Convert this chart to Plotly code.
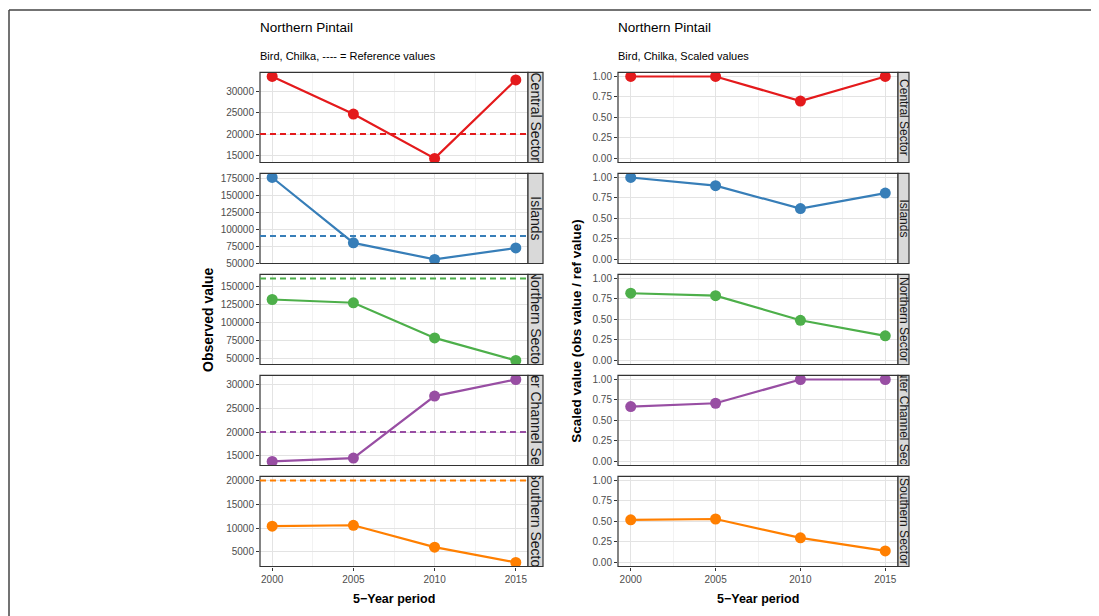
import plotly.graph_objects as go

# ---------------- data ----------------
years = [2000, 2005, 2010, 2015]
year_ticks = [2000, 2005, 2010, 2015]
sites = ["Central Sector", "Islands", "Northern Sector", "Outer Channel Sector", "Southern Sector"]
colors = ["#E41A1C", "#377EB8", "#4DAF4A", "#984EA3", "#FF7F00"]

obs_central = [33500, 24700, 14300, 32700]
obs_islands = [176000, 80000, 55700, 72500]
obs_northern = [132000, 127500, 79000, 48000]
obs_outer = [13800, 14500, 27600, 31100]
obs_southern = [10400, 10600, 6000, 2800]
ref_values = [20000, 90000, 161000, 20000, 20000]

scaled_central = [1.0, 1.0, 0.70, 1.0]
scaled_islands = [1.0, 0.90, 0.62, 0.81]
scaled_northern = [0.82, 0.79, 0.49, 0.30]
scaled_outer = [0.67, 0.71, 1.0, 1.0]
scaled_southern = [0.52, 0.53, 0.30, 0.14]

ticks_central = [15000, 20000, 25000, 30000]
ticks_islands = [50000, 75000, 100000, 125000, 150000, 175000]
ticks_northern = [50000, 75000, 100000, 125000, 150000]
ticks_outer = [15000, 20000, 25000, 30000]
ticks_southern = [5000, 10000, 15000, 20000]
ticks_scaled = [0.0, 0.25, 0.5, 0.75, 1.0]
ticks_scaled_text = ["0.00", "0.25", "0.50", "0.75", "1.00"]

obs_all = [obs_central, obs_islands, obs_northern, obs_outer, obs_southern]
scaled_all = [scaled_central, scaled_islands, scaled_northern, scaled_outer, scaled_southern]
ticks_all = [ticks_central, ticks_islands, ticks_northern, ticks_outer, ticks_southern]

title_text = "Northern Pintail"
subtitle_left = "Bird, Chilka, ---- = Reference values"
subtitle_right = "Bird, Chilka, Scaled values"
ylabel_left = "Observed value"
ylabel_right = "Scaled value (obs value / ref value)"
xlabel = "5\u2212Year period"

# ---------------- layout geometry (pixels, window coords) ----------------
W, H = 1099, 616
OFF = 8  # default page body margin
FONT = "Liberation Sans, Arial, sans-serif"
panel_tops = [72, 174, 276, 378, 480]
panel_h = 91
left_x = (260, 528)
left_strip = (528, 543)
right_x = (618, 898)
right_strip = (898, 909)


def px(x):
    return (x - OFF) / W


def py(y):
    return 1 - (y - OFF) / H


def expand(vals):
    lo, hi = min(vals), max(vals)
    d = hi - lo
    return [lo - 0.05 * d, hi + 0.05 * d]


xr = [1999.25, 2015.75]

fig = go.Figure()
layout = dict(
    width=W, height=H, autosize=False,
    margin=dict(l=0, r=0, t=0, b=0),
    paper_bgcolor="white", plot_bgcolor="white",
    showlegend=False,
    font=dict(family=FONT, color="#4D4D4D", size=10),
)
shapes = []
annotations = []

for i in range(5):
    top = panel_tops[i]
    bot = top + panel_h
    for s in range(2):
        n = i * 2 + s + 1
        xa = "xaxis" if n == 1 else f"xaxis{n}"
        ya = "yaxis" if n == 1 else f"yaxis{n}"
        xref = "x" if n == 1 else f"x{n}"
        yref = "y" if n == 1 else f"y{n}"
        xd = left_x if s == 0 else right_x
        sd = left_strip if s == 0 else right_strip

        if s == 0:
            yvals = obs_all[i]
            yrange = expand(yvals + [ref_values[i]])
            tv = ticks_all[i]
            tt = [str(t) for t in tv]
        else:
            yvals = scaled_all[i]
            yrange = [-0.05, 1.05]
            tv = ticks_scaled
            tt = ticks_scaled_text

        fig.add_trace(go.Scatter(
            x=years, y=yvals, mode="lines+markers",
            line=dict(color=colors[i], width=2.2),
            marker=dict(color=colors[i], size=11),
            xaxis=xref, yaxis=yref, cliponaxis=True,
        ))

        layout[xa] = dict(
            domain=[px(xd[0]), px(xd[1])], anchor=yref, range=xr,
            tickvals=year_ticks, ticktext=[str(t) for t in year_ticks],
            showticklabels=(i == 4), ticks="outside" if i == 4 else "",
            ticklen=3, tickcolor="#333333", tickwidth=1,
            showgrid=True, gridcolor="#E3E3E3", gridwidth=1,
            minor=dict(dtick=2.5, tick0=2000, showgrid=True, gridcolor="#F2F2F2", gridwidth=0.6),
            zeroline=False, showline=False,
            tickfont=dict(size=10, color="#4D4D4D"),
            fixedrange=True,
        )
        layout[ya] = dict(
            domain=[py(bot), py(top)], anchor=xref, range=yrange,
            tickvals=tv, ticktext=tt,
            ticks="outside", ticklen=3, tickcolor="#333333", tickwidth=1,
            showgrid=True, gridcolor="#E3E3E3", gridwidth=1,
            zeroline=False, showline=False,
            tickfont=dict(size=10, color="#4D4D4D"),
            fixedrange=True,
        )

        # panel border
        shapes.append(dict(type="rect", xref="paper", yref="paper",
                           x0=px(xd[0]), x1=px(xd[1]), y0=py(bot), y1=py(top),
                           line=dict(color="#333333", width=1.2), fillcolor="rgba(0,0,0,0)", layer="above"))
        # strip
        shapes.append(dict(type="rect", xref="paper", yref="paper",
                           x0=px(sd[0]), x1=px(sd[1]), y0=py(bot), y1=py(top),
                           line=dict(color="#333333", width=1.2), fillcolor="#D9D9D9", layer="above"))
        sw = sd[1] - sd[0]
        annotations.append(dict(
            xref="paper", yref="paper", x=px((sd[0] + sd[1]) / 2), y=py((top + bot) / 2),
            text=sites[i], showarrow=False, textangle=90,
            width=panel_h - 2, height=sw - 1,
            font=dict(size=14 if s == 0 else 12, color="#1A1A1A", family=FONT),
            xanchor="center", yanchor="middle",
        ))
        # reference line (left only)
        if s == 0:
            shapes.append(dict(type="line", xref=f"{xref} domain", yref=yref,
                               x0=0, x1=1, y0=ref_values[i], y1=ref_values[i],
                               line=dict(color=colors[i], width=2, dash="6px,4px"), layer="above"))

# titles
for s, sub in enumerate([subtitle_left, subtitle_right]):
    xd = left_x if s == 0 else right_x
    annotations.append(dict(xref="paper", yref="paper", x=px(xd[0] - 2), y=py(27),
                            text=title_text, showarrow=False, xanchor="left", yanchor="middle",
                            font=dict(size=13.5, color="#000000", family=FONT)))
    annotations.append(dict(xref="paper", yref="paper", x=px(xd[0] - 2), y=py(55),
                            text=sub, showarrow=False, xanchor="left", yanchor="middle",
                            font=dict(size=11, color="#000000", family=FONT)))
    annotations.append(dict(xref="paper", yref="paper", x=px((xd[0] + xd[1]) / 2), y=py(604),
                            text=f"<b>{xlabel}</b>", showarrow=False, xanchor="center", yanchor="middle",
                            font=dict(size=12.5, color="#000000", family=FONT)))

annotations.append(dict(xref="paper", yref="paper", x=px(208), y=py(322),
                        text=f"<b>{ylabel_left}</b>", showarrow=False, textangle=-90,
                        xanchor="center", yanchor="middle",
                        font=dict(size=14, color="#000000", family=FONT)))
annotations.append(dict(xref="paper", yref="paper", x=px(577), y=py(333),
                        text=f"<b>{ylabel_right}</b>", showarrow=False, textangle=-90,
                        xanchor="center", yanchor="middle",
                        font=dict(size=13.5, color="#000000", family=FONT)))

# outer frame (left and top edges)
shapes.append(dict(type="line", xref="paper", yref="paper", x0=px(9), x1=px(9), y0=0, y1=py(9),
                   line=dict(color="#444444", width=1.5)))
shapes.append(dict(type="line", xref="paper", yref="paper", x0=px(9), x1=1, y0=py(9), y1=py(9),
                   line=dict(color="#444444", width=1.5)))

layout["shapes"] = shapes
layout["annotations"] = annotations
fig.update_layout(**layout)
fig.write_html("out.html")
